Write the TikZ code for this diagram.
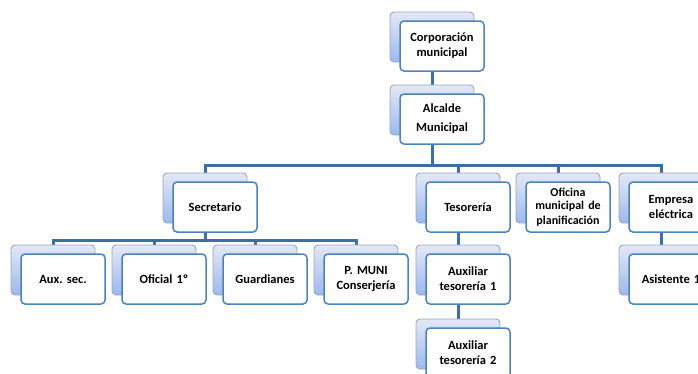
\documentclass[tikz,border=0pt]{standalone}
\usepackage{fontspec}
\setmainfont{Carlito}
\usetikzlibrary{backgrounds}

\definecolor{linea}{HTML}{3F6EA4}
\definecolor{bordeA}{HTML}{9EA5B3}
\definecolor{bordeF}{HTML}{4F81BD}
\definecolor{azulA}{HTML}{E4E8F6}
\definecolor{azulB}{HTML}{9CB9EE}

% back box + front box with the text
\newcommand{\Cargo}[4]{%
  \node[atras] (#1B) at (#2,#3) {};
  \node[frente] (#1) at (#2+10,#3+9) {#4};
}

\begin{document}
\begin{tikzpicture}[x=1pt,y=-1pt,
  atras/.style={draw=bordeA,line width=0.9pt,rounded corners=4pt,
    top color=azulA,bottom color=azulB,minimum width=84pt,minimum height=50pt},
  frente/.style={draw=bordeF,line width=1.5pt,rounded corners=4pt,
    top color=white,bottom color=white!95!azulA,minimum width=84pt,minimum height=50pt,
    text width=80pt,align=center,font=\fontsize{12.5}{15}\selectfont\bfseries,inner sep=1pt},
  enlace/.style={draw=linea,line width=3pt}]
\useasboundingbox (0,0) rectangle (698,373);
\clip (0,0) rectangle (698,373);
    \coordinate (barra1) at (0,165);
    \coordinate (barra2) at (0,240);
    \Cargo{corp}{432}{37}{Corporación\\municipal}
    \Cargo{alc}{432}{110}{Alcalde\\[4pt]Municipal}
    \Cargo{sec}{205}{198}{Secretario}
    \Cargo{tes}{458}{198}{Tesorería}
    \Cargo{ofi}{558}{198}{\fontsize{12}{13.3}\selectfont\bfseries Oficina\\municipal de\\planificación}
    \Cargo{emp}{661}{198}{Empresa\\eléctrica}
    \Cargo{aux}{53}{270}{Aux.\ sec.}
    \Cargo{ofc}{154}{270}{Oficial 1º}
    \Cargo{gua}{255}{270}{Guardianes}
    \Cargo{pmu}{356}{270}{P. MUNI\\Conserjería}
    \Cargo{at1}{458}{270}{Auxiliar\\tesorería 1}
    \Cargo{at2}{458}{344}{Auxiliar\\tesorería 2}
    \Cargo{asi}{661}{270}{Asistente 1}
\begin{pgfonlayer}{background}
    \draw[enlace] (corpB.center) -- (alcB.center);
    \foreach \hijo in {sec,tes,ofi,emp}
        \draw[enlace] (alcB.center) -- (alcB.center |- barra1) -| (\hijo B.center);
    \foreach \hijo in {aux,ofc,gua,pmu}
        \draw[enlace] (secB.center) -- (secB.center |- barra2) -| (\hijo B.center);
    \draw[enlace] (tesB.center) -- (at1B.center);
    \draw[enlace] (at1B.center) -- (at2B.center);
    \draw[enlace] (empB.center) -- (asiB.center);
\end{pgfonlayer}
\end{tikzpicture}
\end{document}
